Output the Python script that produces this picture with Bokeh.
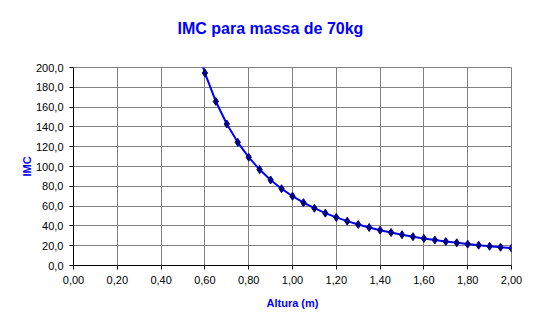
from bokeh.plotting import figure
from bokeh.models import Range1d, SingleIntervalTicker, CustomJSTickFormatter
from bokeh.embed import file_html
from bokeh.resources import INLINE

altura = [0.55, 0.60, 0.65, 0.70, 0.75, 0.80, 0.85, 0.90, 0.95, 1.00,
          1.05, 1.10, 1.15, 1.20, 1.25, 1.30, 1.35, 1.40, 1.45, 1.50,
          1.55, 1.60, 1.65, 1.70, 1.75, 1.80, 1.85, 1.90, 1.95, 2.00]
imc = [231.4, 194.4, 165.7, 142.9, 124.4, 109.4, 96.9, 86.4, 77.6, 70.0,
       63.5, 57.9, 52.9, 48.6, 44.8, 41.4, 38.4, 35.7, 33.3, 31.1,
       29.1, 27.3, 25.7, 24.2, 22.9, 21.6, 20.5, 19.4, 18.4, 17.5]
titulo = "IMC para massa de 70kg"

FONT = "Liberation Sans"
BLUE = "#0000FF"

p = figure(width=537, height=329, output_backend="svg", toolbar_location=None,
           x_range=Range1d(0, 2), y_range=Range1d(0, 200),
           min_border_left=73, min_border_right=26, min_border_top=67,
           min_border_bottom=64, title=titulo + "\n ")
p.background_fill_color = "white"
p.border_fill_color = "white"
p.outline_line_color = "#808080"

p.title.text_font = FONT
p.title.text_font_size = "16px"
p.title.text_font_style = "bold"
p.title.text_color = BLUE
p.title.align = "left"
p.title.offset = 104
p.title.standoff = 28

p.line(altura, imc, line_color=BLUE, line_width=2)
p.scatter(altura, imc, marker="diamond", size=8, fill_color="#000080",
          line_color="#000080")

p.xaxis.ticker = SingleIntervalTicker(interval=0.2)
p.yaxis.ticker = SingleIntervalTicker(interval=20)
p.xaxis.formatter = CustomJSTickFormatter(code="return tick.toFixed(2).replace('.', ',');")
p.yaxis.formatter = CustomJSTickFormatter(code="return tick.toFixed(1).replace('.', ',');")
p.xaxis.axis_label = "Altura (m)"
p.yaxis.axis_label = "IMC"

for ax in (p.xaxis, p.yaxis):
    ax.axis_line_color = "black"
    ax.axis_line_width = 1
    ax.major_tick_line_color = "black"
    ax.major_tick_in = 0
    ax.major_tick_out = 4
    ax.minor_tick_line_color = None
    ax.major_label_text_font = FONT
    ax.major_label_text_font_size = "11px"
    ax.major_label_text_color = "black"
    ax.axis_label_text_font = FONT
    ax.axis_label_text_font_size = "11px"
    ax.axis_label_text_font_style = "bold"
    ax.axis_label_text_color = BLUE

p.xaxis.major_label_standoff = 6
p.xaxis.axis_label_standoff = 10
p.yaxis.major_label_standoff = 6
p.yaxis.axis_label_standoff = 0

p.xgrid.grid_line_color = "#808080"
p.ygrid.grid_line_color = "#808080"
p.xgrid.grid_line_width = 1
p.ygrid.grid_line_width = 1

open("out.html", "w").write(file_html(p, INLINE))
